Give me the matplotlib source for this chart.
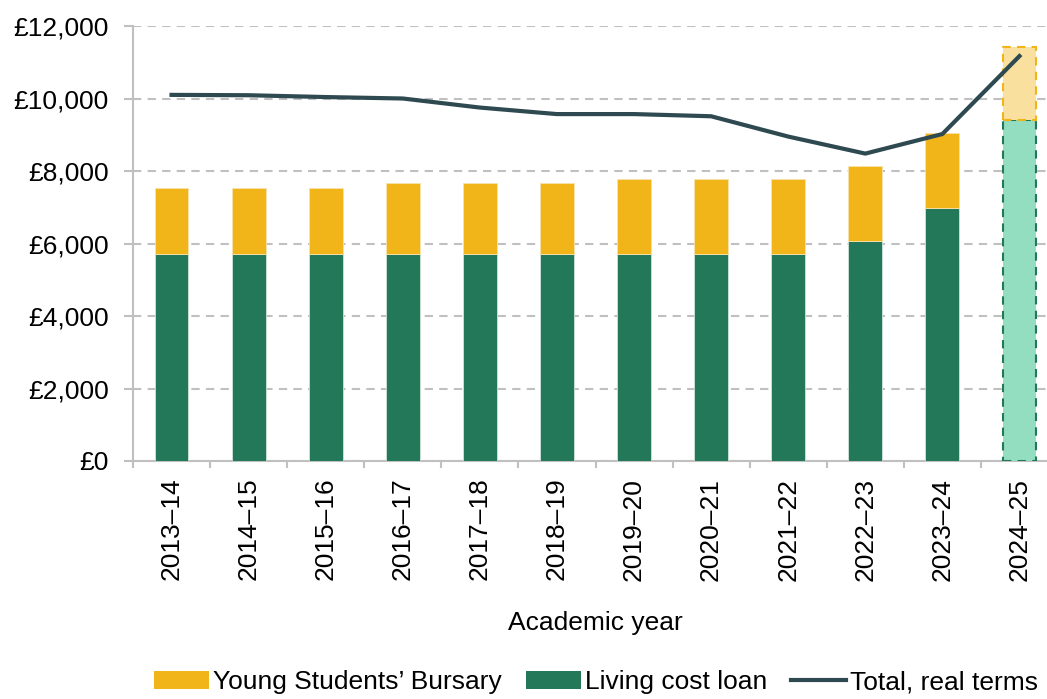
import matplotlib.pyplot as plt
import numpy as np
from matplotlib.patches import Patch
from matplotlib.lines import Line2D
from matplotlib.ticker import FuncFormatter

plt.rcParams["font.family"] = ["Liberation Sans", "DejaVu Sans"]

# data
years = ["2013–14", "2014–15", "2015–16", "2016–17", "2017–18", "2018–19",
         "2019–20", "2020–21", "2021–22", "2022–23", "2023–24", "2024–25"]
loan = [5710, 5710, 5710, 5710, 5710, 5710, 5710, 5710, 5710, 6070, 6980, 9410]
bursary = [1820, 1820, 1820, 1960, 1960, 1960, 2070, 2070, 2070, 2070, 2070, 2020]
total_real = [10100, 10090, 10040, 10000, 9750, 9570, 9570, 9510, 8950, 8480, 9020, 11170]

green = "#23785A"
yellow = "#F1B51A"
light_green = "#93DEC1"
light_yellow = "#F9E09F"
line_col = "#2E4A50"
grid_col = "#C0C0C0"
fs = 19

fig = plt.figure(figsize=(10.47, 6.99), dpi=100)
ax = fig.add_axes([133 / 1047, (699 - 461) / 699, 925 / 1047, 435 / 699])

x = np.arange(len(years))
w = 0.44
n = len(years) - 1

ax.bar(x[:n], loan[:n], w, color=green, edgecolor="#CFE3DA", linewidth=0.6, zorder=3)
ax.bar(x[:n], bursary[:n], w, bottom=loan[:n], color=yellow, edgecolor="#F8E3AE",
       linewidth=0.6, zorder=3)
# projected year
ax.bar(x[n], loan[n], w, color=light_green, edgecolor=green, linewidth=1.5,
       linestyle=(0, (4, 3)), zorder=3)
ax.bar(x[n], bursary[n], w, bottom=loan[n], color=light_yellow, edgecolor=yellow,
       linewidth=1.5, linestyle=(0, (4, 3)), zorder=3)

ax.plot(x, total_real, color=line_col, linewidth=3, zorder=4)

ax.set_xlim(-0.5, len(years) - 0.5)
ax.set_ylim(0, 12000)
ax.set_yticks(np.arange(0, 12001, 2000))
ax.yaxis.set_major_formatter(FuncFormatter(lambda v, p: f"£{v:,.0f}"))
ax.grid(axis="y", color=grid_col, linestyle=(0, (4, 3)), linewidth=1.5, zorder=0)

ax.set_xticks(x)
ax.set_xticklabels(years, rotation=90)
ax.set_xticks(np.arange(-0.5, len(years)), minor=True)
ax.tick_params(axis="x", which="major", length=0, labelsize=fs, pad=12)
ax.tick_params(axis="x", which="minor", length=5, color=grid_col, width=1.5)
ax.tick_params(axis="y", length=6.5, color=grid_col, width=1.5, labelsize=fs, pad=11)

for s in ["top", "right"]:
    ax.spines[s].set_visible(False)
for s in ["left", "bottom"]:
    ax.spines[s].set_color(grid_col)
    ax.spines[s].set_linewidth(1.5)

ax.set_xlabel("Academic year", fontsize=fs, labelpad=22)

handles = [Patch(facecolor=yellow, label="Young Students’ Bursary"),
           Patch(facecolor=green, label="Living cost loan"),
           Line2D([0], [0], color=line_col, linewidth=3, label="Total, real terms")]
fig.legend(handles=handles, loc="center", bbox_to_anchor=(596 / 1047, 0.024), ncol=3,
           frameon=False, fontsize=fs, handlelength=2.1, handletextpad=0.15,
           columnspacing=0.9, borderaxespad=0)

fig.savefig("out.png", dpi=100)
